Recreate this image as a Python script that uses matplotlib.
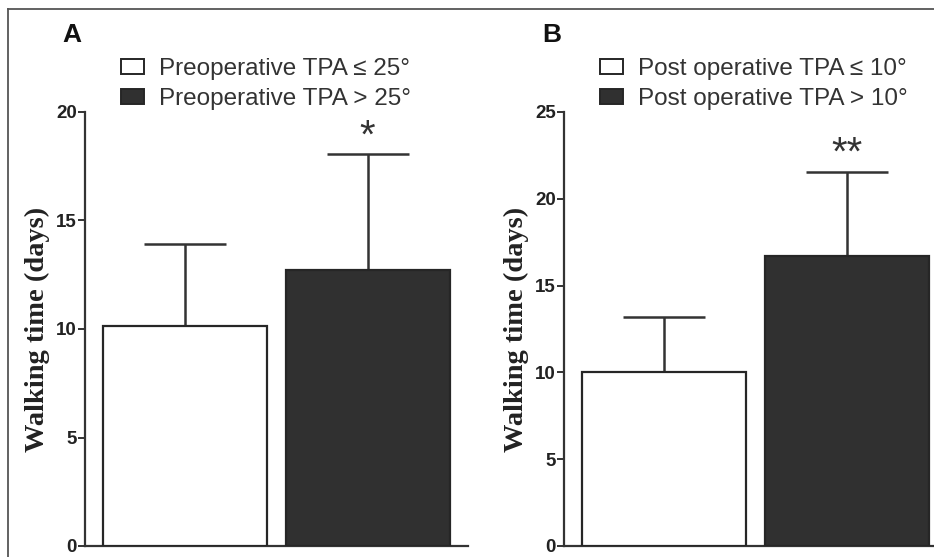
import matplotlib.pyplot as plt
from matplotlib.patches import Patch
from matplotlib.lines import Line2D
import numpy as np

# panel A
labels_a = ['Preoperative TPA \u2264 25\u00b0', 'Preoperative TPA > 25\u00b0']
mean_a = [10.15, 12.7]
sd_a = [3.75, 5.35]
# panel B
labels_b = ['Post operative TPA \u2264 10\u00b0', 'Post operative TPA > 10\u00b0']
mean_b = [10.0, 16.7]
sd_b = [3.2, 4.85]

W, H = 934, 557
fig = plt.figure(figsize=(W / 100, H / 100), dpi=100)

edge = '#262626'
dark = '#303030'
txt = '#333333'
colors = ['white', dark]


def px(x0, y0, x1, y1):
    # pixel box (top-left origin) -> figure fraction rect
    return [x0 / W, 1 - y1 / H, (x1 - x0) / W, (y1 - y0) / H]


def panel(rect, means, sds, ymax, labels, stars, leg_x):
    ax = fig.add_axes(rect)
    x = np.arange(2)
    width = 0.9
    ax.bar(x, means, width=width, color=colors, edgecolor=edge, linewidth=1.6,
           zorder=3)
    ax.errorbar(x, means, yerr=[np.zeros(2), sds], fmt='none', capsize=29.5,
                ecolor=txt, elinewidth=1.8, capthick=1.8, zorder=2)
    ax.set_xlim(-0.55, 1.55)
    ax.set_ylim(0, ymax)
    ax.set_yticks(np.arange(0, ymax + 1, 5))
    ax.set_xticks([])
    for s in ['top', 'right']:
        ax.spines[s].set_visible(False)
    for s in ['left', 'bottom']:
        ax.spines[s].set_color(txt)
        ax.spines[s].set_linewidth(1.6)
    ax.tick_params(axis='y', direction='out', length=5, width=1.4, color=txt,
                   pad=1, labelsize=13.5, labelcolor='#222222')
    for t in ax.get_yticklabels():
        t.set_fontweight('bold')
        t.set_family('Liberation Sans')
    ax.set_ylabel('Walking time (days)', family='Liberation Serif',
                  fontweight='bold', fontsize=20.5, color='#222222', labelpad=4)
    ax.set_facecolor('none')
    ax.annotate(stars, (1, means[1] + sds[1]), xytext=(0, 13),
                textcoords='offset points', ha='center', va='center',
                fontsize=29, family='Liberation Sans', color=txt)
    handles = [Patch(facecolor=c, edgecolor=edge, linewidth=1.4) for c in colors]
    fig.legend(handles, labels, loc='upper left',
               bbox_to_anchor=(leg_x / W, 1 - 58 / H), frameon=False,
               handlelength=0.95, handleheight=0.6, handletextpad=0.6,
               labelspacing=0.34, borderaxespad=0, borderpad=0,
               prop={'family': 'Liberation Sans', 'size': 17.5},
               labelcolor=txt)
    return ax


axA = panel(px(85, 112, 468, 546), mean_a, sd_a, 20, labels_a, '*', 121)
axB = panel(px(564, 112, 947, 546), mean_b, sd_b, 25, labels_b, '**', 600)

fig.text(62 / W, 1 - 42 / H, 'A', fontsize=19, fontweight='bold',
         family='Liberation Sans', color='#111111')
fig.text(542 / W, 1 - 42 / H, 'B', fontsize=19, fontweight='bold',
         family='Liberation Sans', color='#111111')

# outer frame (top and left edges visible)
fig.add_artist(Line2D([8 / W, 1], [1 - 9 / H, 1 - 9 / H], transform=fig.transFigure,
                      color='#555555', linewidth=1.3))
fig.add_artist(Line2D([8 / W, 8 / W], [0, 1 - 9 / H], transform=fig.transFigure,
                      color='#555555', linewidth=1.3))

fig.savefig('out.png', dpi=100)
